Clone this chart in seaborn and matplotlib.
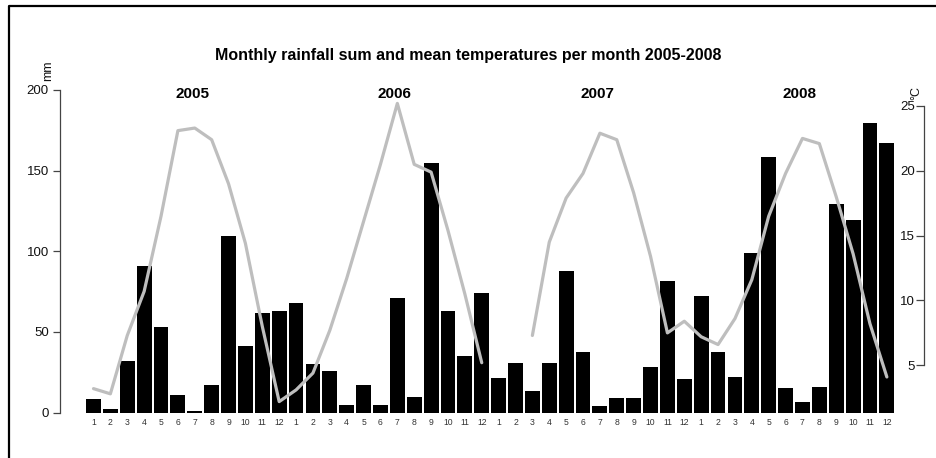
import numpy as np
import pandas as pd
import matplotlib
matplotlib.use("Agg")
import matplotlib.pyplot as plt
from matplotlib.lines import Line2D
import seaborn as sns

# ---- data ----
years = ["2005", "2006", "2007", "2008"]
months = list(range(1, 13))
rain_2005 = [8.2, 2, 31.8, 91, 52.8, 10.7, 1, 16.9, 109.7, 41, 62, 62.7]
rain_2006 = [68.2, 30, 25.6, 4.5, 16.9, 4.5, 71.3, 9.5, 154.8, 62.7, 34.8, 73.8]
rain_2007 = [21.2, 31, 13.2, 31, 88, 37.3, 3.9, 8.9, 8.9, 28, 81.4, 20.6]
rain_2008 = [72, 37.3, 21.9, 98.8, 158.6, 15, 6.4, 15.7, 129.5, 119.6, 179.8, 167.2]
temp_2005 = [3.2, 2.8, 7.3, 10.7, 16.5, 23.1, 23.3, 22.4, 19.0, 14.4, 8.0, 2.2]
temp_2006 = [3.1, 4.4, 7.7, 11.7, 16.1, 20.5, 25.2, 20.5, 19.9, 15.4, 10.5, 5.2]
temp_2007 = [np.nan, np.nan, 7.3, 14.5, 17.9, 19.8, 22.9, 22.4, 18.3, 13.4, 7.5, 8.4]
temp_2008 = [7.2, 6.6, 8.6, 11.6, 16.5, 19.8, 22.5, 22.1, 18.0, 13.6, 8.2, 4.1]
left_ticks = [0, 50, 100, 150, 200]
right_ticks = [5, 10, 15, 20, 25]
title = "Monthly rainfall sum and mean temperatures per month 2005-2008"

rain = rain_2005 + rain_2006 + rain_2007 + rain_2008
temp = temp_2005 + temp_2006 + temp_2007 + temp_2008
month_labels = [str(m) for m in months] * len(years)
idx = np.arange(len(rain))

df = pd.DataFrame({"idx": idx, "rain": rain, "temp": temp})
# line segments separated by missing values
df["seg"] = np.cumsum(df["temp"].isna().astype(int))
line_df = df.dropna(subset=["temp"])

# ---- style ----
sns.set_theme(style="white")
plt.rcParams["font.family"] = ["Liberation Sans", "DejaVu Sans"]

W, H = 936, 458
fig = plt.figure(figsize=(W / 100, H / 100), dpi=100)
fig.patch.set_facecolor("white")

ax_l, ax_r = 60, 924
ax_t, ax_b = 90, 412.5
ax = fig.add_axes([ax_l / W, 1 - ax_b / H, (ax_r - ax_l) / W, (ax_b - ax_t) / H])
ax.set_facecolor("none")

sns.barplot(data=df, x="idx", y="rain", color="black", saturation=1,
            width=0.88, ax=ax, linewidth=0)

ax2 = ax.twinx()
sns.lineplot(data=line_df, x="idx", y="temp", units="seg", estimator=None,
             color="#bebebe", linewidth=2.3, ax=ax2, legend=False)

# limits
x0 = (ax_l - 93.5) / 16.88
x1 = (ax_r - 93.5) / 16.88
ax.set_xlim(x0, x1)
ax2.set_xlim(x0, x1)
ax.set_ylim(0, 200)
t_lo = 5 - (ax_b - 365.3) / 12.965
t_hi = 25 + (106 - ax_t) / 12.965
ax2.set_ylim(t_lo, t_hi)

for a in (ax, ax2):
    a.set_xlabel("")
    a.set_ylabel("")

# spines
for s in ["top", "right", "bottom"]:
    ax.spines[s].set_visible(False)
for s in ["top", "left", "bottom"]:
    ax2.spines[s].set_visible(False)
ax2.spines["right"].set_visible(True)

# left axis
ax.spines["left"].set_color("#444444")
ax.spines["left"].set_linewidth(0.9)
ax.spines["left"].set_bounds(0, 200)
ax.set_yticks(left_ticks)
ax.set_yticklabels([str(t) for t in left_ticks])
ax.tick_params(axis="y", left=True, length=5, width=0.9, color="#444444",
               pad=3, labelsize=9.5, labelcolor="#111111")

# x labels
ax.set_xticks(idx)
ax.set_xticklabels(month_labels)
ax.tick_params(axis="x", bottom=False, length=0, pad=4, labelsize=6.2,
               labelcolor="#333333")

# right axis
ax2.spines["right"].set_color("#444444")
ax2.spines["right"].set_linewidth(0.9)
ax2.spines["right"].set_bounds(5, 25)
ax2.set_yticks(right_ticks)
ax2.set_yticklabels([str(t) for t in right_ticks])
ax2.tick_params(axis="y", right=True, left=False, direction="in", length=5.8,
                width=0.9, color="#444444", pad=-6.3, labelsize=9.5,
                labelcolor="#111111")
for lab in ax2.get_yticklabels():
    lab.set_horizontalalignment("right")

# year labels
for k, yr in enumerate(years):
    ax.text(k * 12 + 5.85, 197.5, yr, ha="center", va="center",
            fontsize=11, fontweight="bold", color="black")

# title and unit labels
fig.text(468 / W, 1 - 55.5 / H, title, ha="center", va="center",
         fontsize=11.5, fontweight="bold", color="black")
fig.text(48 / W, 1 - 71 / H, "mm", rotation=90, ha="center", va="center",
         fontsize=9, color="#111111")
fig.text(916 / W, 1 - 93 / H, "°C", rotation=90, ha="center", va="center",
         fontsize=9, color="#111111")

# outer frame (left and top edges)
fig.add_artist(Line2D([8.5 / W, 8.5 / W, 1.0], [0.0, 1 - 5.5 / H, 1 - 5.5 / H],
                      transform=fig.transFigure, color="black", linewidth=1.6))

fig.savefig("out.png", dpi=100, facecolor="white")
